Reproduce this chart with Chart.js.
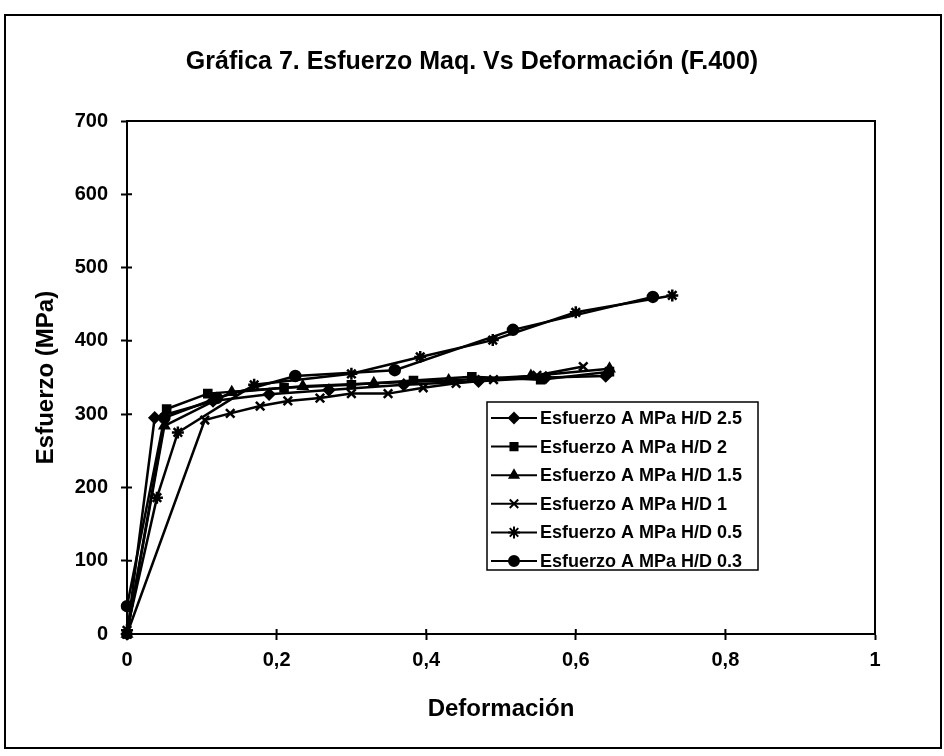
<!DOCTYPE html>
<html><head><meta charset="utf-8">
<script src="https://cdn.jsdelivr.net/npm/chart.js@4.4.1/dist/chart.umd.min.js"></script>
<style>html,body{margin:0;padding:0;background:#fff}#wrap{width:944px;height:756px}</style>
</head><body><div id="wrap"><canvas id="c" width="944" height="756"></canvas></div>
<script>
const chartTitle = 'Gráfica 7. Esfuerzo Maq. Vs Deformación (F.400)';
const xTitle = 'Deformación';
const yTitle = 'Esfuerzo (MPa)';
const seriesLabels = ['Esfuerzo A MPa H/D 2.5','Esfuerzo A MPa H/D 2','Esfuerzo A MPa H/D 1.5','Esfuerzo A MPa H/D 1','Esfuerzo A MPa H/D 0.5','Esfuerzo A MPa H/D 0.3'];
const pointStyles = ['rectRot','rect','triangle','crossRot','star','circle'];

const hd25X = [0, 0.037, 0.115, 0.19, 0.27, 0.37, 0.47, 0.56, 0.64];
const hd25Y = [0, 295, 318, 327, 333, 340, 345, 350, 352];
const hd2X  = [0, 0.053, 0.108, 0.21, 0.30, 0.383, 0.461, 0.553, 0.645];
const hd2Y  = [0, 307, 328, 336, 340, 346, 351, 347, 358];
const hd15X = [0, 0.05, 0.14, 0.235, 0.33, 0.43, 0.54, 0.645];
const hd15Y = [0, 284, 330, 338, 342, 346, 352, 362];
const hd1X  = [0, 0.104, 0.138, 0.178, 0.215, 0.258, 0.30, 0.349, 0.396, 0.44, 0.49, 0.548, 0.61];
const hd1Y  = [0, 292, 301, 311, 318, 322, 328, 328, 336, 342, 347, 353, 365];
const hd05X = [0, 0.04, 0.068, 0.17, 0.30, 0.392, 0.489, 0.60, 0.729];
const hd05Y = [5, 186, 275, 340, 355, 378, 401, 439, 462];
const hd03X = [0, 0.05, 0.12, 0.225, 0.358, 0.516, 0.703];
const hd03Y = [38, 295, 322, 352, 360, 415, 460];

const xTicks = [0, 0.2, 0.4, 0.6, 0.8, 1];
const xTickLabels = ['0', '0,2', '0,4', '0,6', '0,8', '1'];

const seriesX = [hd25X, hd2X, hd15X, hd1X, hd05X, hd03X];
const seriesY = [hd25Y, hd2Y, hd15Y, hd1Y, hd05Y, hd03Y];

const FONT = '"Liberation Sans", Arial, sans-serif';

const datasets = seriesLabels.map((lab, i) => ({
  label: lab,
  data: seriesX[i].map((x, j) => ({x: x, y: seriesY[i][j]})),
  showLine: true,
  borderColor: '#000',
  backgroundColor: '#000',
  borderWidth: 2.5,
  pointStyle: pointStyles[i],
  pointRadius: pointStyles[i] === 'crossRot' || pointStyles[i] === 'star' ? 6 : 5,
  pointBorderWidth: 2.5,
  pointBorderColor: '#000',
  pointBackgroundColor: '#000',
  tension: 0,
  clip: false
}));

const framePlugin = {
  id: 'frame',
  beforeDraw(chart) {
    const ctx = chart.ctx;
    ctx.save();
    ctx.fillStyle = '#fff';
    ctx.fillRect(0, 0, chart.width, chart.height);
    ctx.strokeStyle = '#000';
    ctx.lineWidth = 2;
    ctx.strokeRect(5, 15, 936, 733);
    ctx.fillStyle = '#000';
    ctx.font = 'bold 25px ' + FONT;
    ctx.textAlign = 'center';
    ctx.textBaseline = 'middle';
    ctx.fillText(chartTitle, 472, 62);
    ctx.restore();
  },
  afterDraw(chart) {
    const ctx = chart.ctx;
    const a = chart.chartArea;
    ctx.save();
    ctx.strokeStyle = '#000';
    ctx.lineWidth = 2;
    ctx.strokeRect(a.left, a.top, a.right - a.left, a.bottom - a.top);
    // inner half of cross ticks
    const xs = chart.scales.x, ys = chart.scales.y;
    ctx.beginPath();
    xs.ticks.forEach(t => { const p = xs.getPixelForValue(t.value); ctx.moveTo(p, a.bottom); ctx.lineTo(p, a.bottom - 5); });
    ys.ticks.forEach(t => { const p = ys.getPixelForValue(t.value); ctx.moveTo(a.left, p); ctx.lineTo(a.left + 5, p); });
    ctx.stroke();
    // legend
    const lx = 487, ly = 402, lw = 271, lh = 168;
    ctx.fillStyle = '#fff';
    ctx.fillRect(lx, ly, lw, lh);
    ctx.lineWidth = 1.5;
    ctx.strokeRect(lx, ly, lw, lh);
    ctx.font = 'bold 18px ' + FONT;
    ctx.textAlign = 'left';
    ctx.textBaseline = 'middle';
    chart.data.datasets.forEach((ds, i) => {
      const y = ly + 16 + i * 28.6;
      ctx.strokeStyle = '#000';
      ctx.lineWidth = 2;
      ctx.beginPath(); ctx.moveTo(lx + 4, y); ctx.lineTo(lx + 50, y); ctx.stroke();
      ctx.fillStyle = '#000';
      if (Chart.helpers && Chart.helpers.drawPoint) {
        Chart.helpers.drawPoint(ctx, {pointStyle: ds.pointStyle, radius: ds.pointRadius, rotation: 0, borderWidth: 2}, lx + 27, y);
      }
      ctx.fillStyle = '#000';
      ctx.fillText(ds.label, lx + 53, y + 1);
    });
    ctx.restore();
  }
};

new Chart(document.getElementById('c'), {
  type: 'scatter',
  data: { datasets: datasets },
  options: {
    responsive: false,
    animation: false,
    devicePixelRatio: 1,
    layout: { padding: { left: 10, right: 69, top: 121, bottom: 10 } },
    plugins: { legend: { display: false }, title: { display: false }, tooltip: { enabled: false } },
    scales: {
      x: {
        type: 'linear', min: 0, max: 1,
        afterFit(s) { s.height = 112; },
        afterBuildTicks(s) { s.ticks = xTicks.map(v => ({value: v})); },
        ticks: {
          color: '#000', font: { family: FONT, size: 20, weight: 'bold' }, padding: 8,
          maxRotation: 0, autoSkip: false,
          callback: (v) => { const k = xTicks.indexOf(v); return k >= 0 ? xTickLabels[k] : ''; }
        },
        grid: { drawOnChartArea: false, drawTicks: true, tickLength: 6, tickColor: '#000', tickWidth: 2 },
        border: { display: true, color: '#000', width: 2 },
        title: { display: true, text: xTitle, color: '#000', font: { family: FONT, size: 24, weight: 'bold' }, padding: { top: 0, bottom: 22 } }
      },
      y: {
        type: 'linear', min: 0, max: 700,
        afterFit(s) { s.width = 117; },
        ticks: { stepSize: 100, color: '#000', font: { family: FONT, size: 20, weight: 'bold' }, padding: 13 },
        grid: { drawOnChartArea: false, drawTicks: true, tickLength: 6, tickColor: '#000', tickWidth: 2 },
        border: { display: true, color: '#000', width: 2 },
        title: { display: true, text: yTitle, color: '#000', font: { family: FONT, size: 24, weight: 'bold' }, padding: { top: 22, bottom: 0 } }
      }
    }
  },
  plugins: [framePlugin]
});
</script>
</body></html>
